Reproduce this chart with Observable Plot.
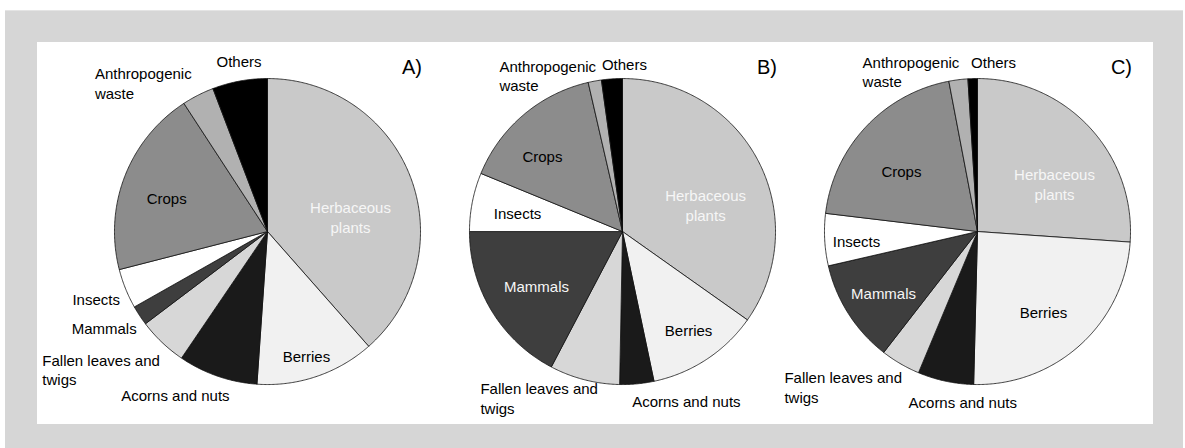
<!DOCTYPE html>
<html>
<head>
<meta charset="utf-8">
<script src="https://cdn.jsdelivr.net/npm/d3@7"></script>
<script src="https://cdn.jsdelivr.net/npm/@observablehq/plot@0.6"></script>
<style>
  html, body { margin: 0; padding: 0; background: #ffffff; }
  #wrap { position: relative; width: 1185px; height: 448px; overflow: hidden; }
  #frame { position: absolute; left: 5px; top: 10px; width: 1178px; height: 438px; background: #d6d6d6; border-top: 1px solid #e4e4e4; box-sizing: border-box; }
  #panel { position: absolute; left: 37px; top: 42px; width: 1116px; height: 382px; background: #ffffff; }
  #chart { position: absolute; left: 0; top: 0; }
</style>
</head>
<body>
<div id="wrap">
  <div id="frame"></div>
  <div id="panel"></div>
  <div id="chart"></div>
</div>
<script>
// ---- data ----
const categories = ["Herbaceous plants", "Berries", "Acorns and nuts", "Fallen leaves and twigs", "Mammals", "Insects", "Crops", "Anthropogenic waste", "Others"];
const labelTexts = ["Herbaceous\nplants", "Berries", "Acorns and nuts", "Fallen leaves and\ntwigs", "Mammals", "Insects", "Crops", "Anthropogenic\nwaste", "Others"];
const panels = ["A", "B", "C"];
const sharesA = [38.5, 12.6, 8.4, 5.2, 2.1, 4.2, 19.8, 3.4, 5.8];
const sharesB = [34.8, 11.9, 3.6, 7.4, 17.3, 6.2, 15.2, 1.4, 2.2];
const sharesC = [26.1, 24.3, 5.9, 4.2, 10.9, 5.5, 20.1, 2.0, 1.0];
const shares = [sharesA, sharesB, sharesC];

// ---- styles / layout ----
const greys = ["#c9c9c9", "#f1f1f1", "#1a1a1a", "#d7d7d7", "#3e3e3e", "#ffffff", "#8c8c8c", "#b1b1b1", "#000000"];
// label placement: [angle shift from slice middle (deg), radius factor]
const labelLayout = {
  A: [[10.5, 0.551], [1.3, 0.85], [10.4, 1.223], [15, 1.725], [2.7, 1.24], [0.5, 1.203], [-2.9, 0.694], [-22.2, 1.49], [1.0, 1.134]],
  B: [[9.4, 0.571], [-0.7, 0.772], [-15.3, 1.181], [26.1, 1.43], [-1.0, 0.664], [-0.9, 0.697], [-6.2, 0.721], [-27.8, 1.30], [4.6, 1.098]],
  C: [[11.1, 0.593], [2.8, 0.678], [-7.1, 1.116], [21.0, 1.618], [-0.4, 0.732], [-1.2, 0.793], [-4.3, 0.637], [-28.4, 1.29], [7.2, 1.116]]
};
const startAnchored = new Set(["Fallen leaves and twigs", "Anthropogenic waste"]);

// ---- build slice polygons and labels from the data ----
const sliceRows = [];
const labelRows = [];
panels.forEach((p, pi) => {
  const arcs = d3.pie().sort(null).value(d => d)(shares[pi]);
  arcs.forEach((a, i) => {
    const key = p + i;
    const color = greys[i];
    sliceRows.push({panel: p, key, color, x: 0, y: 0});
    const n = Math.max(2, Math.ceil((a.endAngle - a.startAngle) / (Math.PI / 360)));
    for (let k = 0; k <= n; k++) {
      const t = a.startAngle + (a.endAngle - a.startAngle) * k / n;
      sliceRows.push({panel: p, key, color, x: Math.sin(t), y: Math.cos(t)});
    }
    sliceRows.push({panel: p, key, color, x: 0, y: 0});

    const [dTheta, rf] = labelLayout[p][i];
    const mid = (a.startAngle + a.endAngle) / 2 + dTheta * Math.PI / 180;
    const cat = categories[i];
    const white = i === 0 || (cat === "Mammals" && rf < 1);
    labelRows.push({
      panel: p, cat, text: labelTexts[i],
      x: rf * Math.sin(mid), y: rf * Math.cos(mid),
      fill: white ? "#f6f6f6" : "#000000",
      start: startAnchored.has(cat)
    });
  });
});

const chart = Plot.plot({
  width: 1185,
  height: 448,
  marginLeft: 89.5,
  marginRight: 30.5,
  marginTop: 0,
  marginBottom: 0,
  fx: {domain: panels, padding: 0, axis: null, round: false},
  x: {domain: [-1.16, 1.16], axis: null},
  y: {domain: [-1.418, 1.51], axis: null},
  color: {type: "identity"},
  style: {background: "transparent", overflow: "visible", fontFamily: "'Liberation Sans', Arial, Helvetica, sans-serif"},
  marks: [
    Plot.line(sliceRows, {fx: "panel", x: "x", y: "y", z: "key", fill: "color", stroke: "#111111", strokeWidth: 0.8, curve: "linear"}),
    Plot.text(labelRows.filter(d => !d.start), {fx: "panel", x: "x", y: "y", text: "text", fill: "fill", fontSize: 15, lineHeight: 1.3, textAnchor: "middle", lineAnchor: "middle"}),
    Plot.text(labelRows.filter(d => d.start), {fx: "panel", x: "x", y: "y", text: "text", fill: "fill", fontSize: 15, lineHeight: 1.3, textAnchor: "start", lineAnchor: "middle"}),
    Plot.text(panels, {fx: d => d, text: d => d + ")", frameAnchor: "top-right", textAnchor: "end", lineAnchor: "middle", dx: -23, dy: 67, fontSize: 20, fill: "#000000"})
  ]
});
document.getElementById("chart").appendChild(chart);
</script>
</body>
</html>
